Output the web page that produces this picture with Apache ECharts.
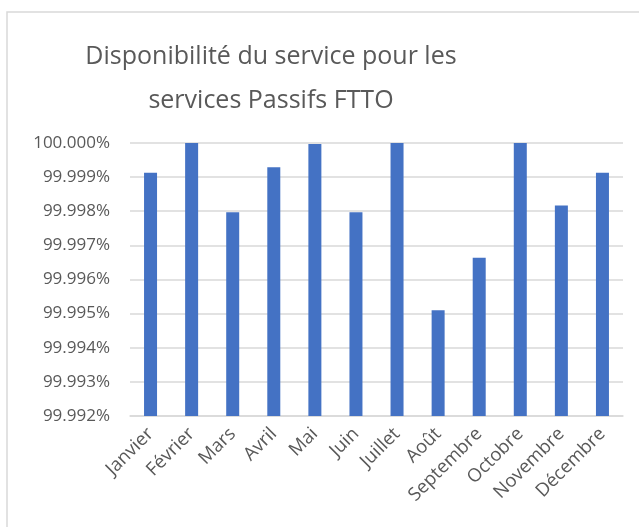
<!DOCTYPE html>
<html>
<head>
<meta charset="utf-8">
<script src="https://cdn.jsdelivr.net/npm/echarts@6/dist/echarts.min.js"></script>
<style>
  html, body { margin: 0; padding: 0; background: #fff; }
  #main { width: 639px; height: 527px; }
</style>
</head>
<body>
<div id="main"></div>
<script>
    // données
    var mois = ['Janvier', 'Février', 'Mars', 'Avril', 'Mai', 'Juin', 'Juillet', 'Août', 'Septembre', 'Octobre', 'Novembre', 'Décembre'];
    var disponibilite = [99.99913, 100.000, 99.99797, 99.99929, 99.99997, 99.99797, 100.000, 99.99510, 99.99664, 100.000, 99.99817, 99.99913];
    var yMin = 99.992;
    var yMax = 100.000;
    var yPas = 0.001;

    var myChart = echarts.init(document.getElementById('main'));

    var option = {
        animation: false,
        textStyle: {
            fontFamily: 'Open Sans'
        },
        title: {
            text: 'Disponibilité du service pour les\nservices Passifs FTTO',
            left: 266,
            top: 30,
            textAlign: 'center',
            textStyle: {
                color: '#595959',
                fontSize: 25,
                fontWeight: 'normal',
                lineHeight: 44,
                fontFamily: 'Open Sans'
            }
        },
        graphic: [{
            type: 'rect',
            shape: { x: 7, y: 12, width: 700, height: 600 },
            style: { fill: 'none', stroke: '#d9d9d9', lineWidth: 1.5 },
            silent: true
        }],
        grid: {
            left: 130,
            right: 16,
            top: 143,
            bottom: 111
        },
        xAxis: {
            type: 'category',
            data: mois,
            axisTick: { show: false },
            axisLine: {
                show: true,
                lineStyle: { color: '#d9d9d9', width: 1.5 }
            },
            axisLabel: {
                rotate: 45,
                interval: 0,
                color: '#595959',
                fontSize: 18.5,
                margin: 15
            }
        },
        yAxis: {
            type: 'value',
            min: yMin,
            max: yMax,
            interval: yPas,
            axisLine: { show: false },
            axisTick: { show: false },
            axisLabel: {
                color: '#595959',
                fontSize: 17,
                margin: 20,
                formatter: function (v) {
                    return v.toFixed(3) + '%';
                }
            },
            splitLine: {
                lineStyle: { color: '#d9d9d9', width: 1.5 }
            }
        },
        series: [{
            type: 'bar',
            data: disponibilite,
            barWidth: 13,
            itemStyle: {
                color: '#4472c4'
            }
        }]
    };

    myChart.setOption(option);
</script>
</body>
</html>
